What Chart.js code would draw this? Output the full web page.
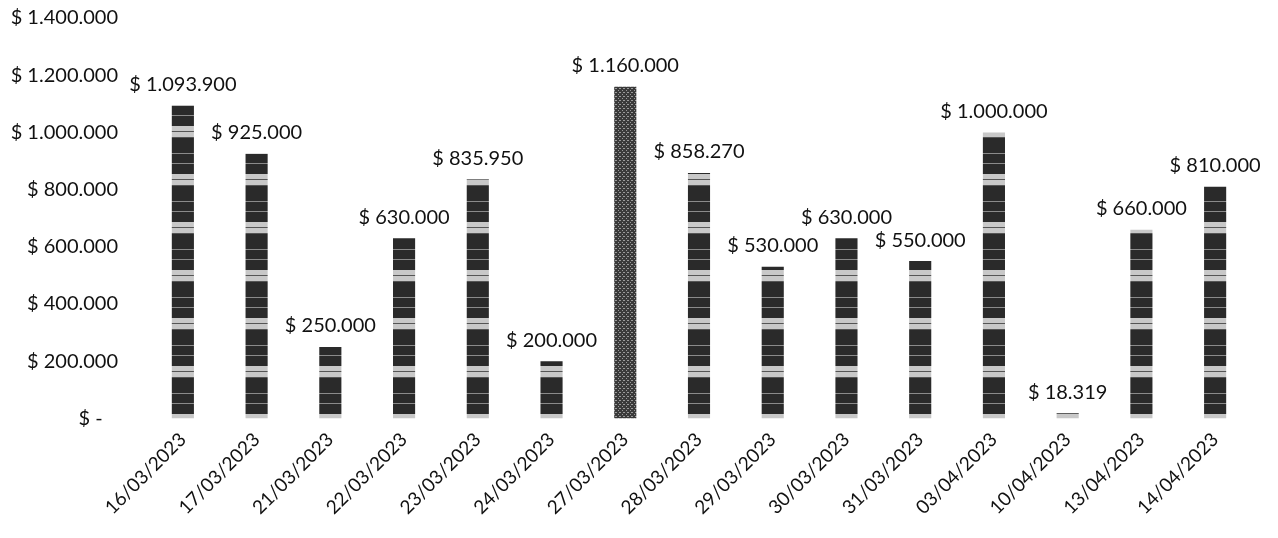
<!DOCTYPE html>
<html>
<head>
<meta charset="utf-8">
<script src="https://cdn.jsdelivr.net/npm/chart.js@4.4.1/dist/chart.umd.min.js"></script>
<style>
  html, body { margin: 0; padding: 0; background: #fff; }
  #wrap { width: 1278px; height: 538px; }
</style>
</head>
<body>
<div id="wrap"><canvas id="chart"></canvas></div>
<script>
const fechas = ['16/03/2023', '17/03/2023', '21/03/2023', '22/03/2023', '23/03/2023',
  '24/03/2023', '27/03/2023', '28/03/2023', '29/03/2023', '30/03/2023',
  '31/03/2023', '03/04/2023', '10/04/2023', '13/04/2023', '14/04/2023'];
const montos = [1093900, 925000, 250000, 630000, 835950,
  200000, 1160000, 858270, 530000, 630000,
  550000, 1000000, 18319, 660000, 810000];
const ticksY = [0, 200000, 400000, 600000, 800000, 1000000, 1200000, 1400000];

// formato contable tipo Excel: "$ 1.093.900", cero como "$ -"
function pesos(v) {
  if (v === 0) return '$ -\u00a0\u00a0\u00a0';
  return '$ ' + Math.round(v).toString().replace(/\B(?=(\d{3})+(?!\d))/g, '.');
}

// trama de barras escaneadas: bloques oscuros con franjas claras
function tramaBandas() {
  const c = document.createElement('canvas');
  c.width = 8; c.height = 48;
  const g = c.getContext('2d');
  g.fillStyle = '#2a2a2a'; g.fillRect(0, 0, 8, 48);
  g.fillStyle = '#8a8a8a'; g.fillRect(0, 9, 8, 1); g.fillRect(0, 19, 8, 1);
  g.fillStyle = '#c8c8c8'; g.fillRect(0, 30, 8, 12);
  g.fillStyle = '#555'; g.fillRect(0, 35, 8, 1); g.fillRect(0, 41, 8, 1);
  return g.createPattern(c, 'repeat');
}
function tramaPuntos() {
  const c = document.createElement('canvas');
  c.width = 4; c.height = 4;
  const g = c.getContext('2d');
  g.fillStyle = '#3a3a3a'; g.fillRect(0, 0, 4, 4);
  g.fillStyle = '#9a9a9a'; g.fillRect(0, 0, 1, 1); g.fillRect(2, 2, 1, 1); g.fillRect(3, 0, 1, 1);
  return g.createPattern(c, 'repeat');
}

const FUENTE = 'Lato, "Noto Sans", sans-serif';
const TAM = 20;

// etiquetas de valor encima de cada barra
const etiquetas = {
  id: 'etiquetas',
  afterDatasetsDraw(chart) {
    const ctx = chart.ctx;
    const meta = chart.getDatasetMeta(0);
    ctx.save();
    ctx.font = TAM + 'px ' + FUENTE;
    ctx.fillStyle = '#111';
    ctx.textAlign = 'center';
    ctx.textBaseline = 'middle';
    meta.data.forEach((bar, i) => {
      ctx.fillText(pesos(montos[i]), bar.x, bar.y - 21);
    });
    ctx.restore();
  }
};

function dibujar() {
  const bandas = tramaBandas();
  const puntos = tramaPuntos();
  new Chart(document.getElementById('chart'), {
    type: 'bar',
    data: {
      labels: fechas,
      datasets: [{
        data: montos,
        backgroundColor: fechas.map((f, i) => i === 6 ? puntos : bandas),
        borderWidth: 0,
        barPercentage: 0.3,
        categoryPercentage: 1
      }]
    },
    options: {
      responsive: true,
      maintainAspectRatio: false,
      animation: false,
      layout: { padding: { left: 11, right: 26, top: 18, bottom: 17 } },
      plugins: { legend: { display: false }, tooltip: { enabled: false } },
      scales: {
        x: {
          grid: { display: false },
          border: { display: false },
          // la primera fecha girada no debe empujar el area del grafico
          afterFit(scale) { scale.paddingLeft = 0; scale.paddingRight = 0; },
          ticks: {
            color: '#111',
            font: { family: FUENTE, size: 19 },
            minRotation: 45, maxRotation: 45,
            padding: 2
          }
        },
        y: {
          min: 0, max: 1400000,
          afterBuildTicks(axis) { axis.ticks = ticksY.map(v => ({ value: v })); },
          // ancho fijo del eje: etiquetas terminan ~28px antes de las barras
          afterFit(scale) { scale.width = 135; scale.paddingTop = 0; scale.paddingBottom = 0; },
          grid: { display: false },
          border: { display: false },
          ticks: {
            color: '#111',
            font: { family: FUENTE, size: TAM },
            padding: 20,
            callback: v => pesos(v)
          }
        }
      }
    },
    plugins: [etiquetas]
  });
}

// esperar a la fuente para que las medidas de los ejes sean correctas
document.fonts.load(TAM + 'px Lato').then(dibujar, dibujar);
</script>
</body>
</html>
